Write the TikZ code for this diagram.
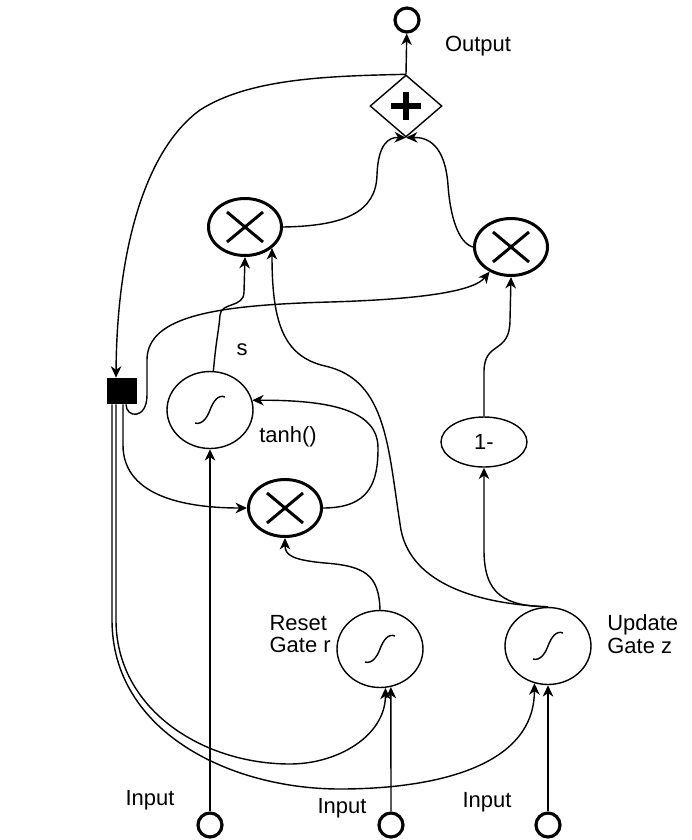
\documentclass[tikz,border=0pt]{standalone}
\usepackage{fontspec}
\setmainfont{Liberation Sans}
\usetikzlibrary{arrows.meta,positioning,shapes,calc}
\tikzset{
  >={Stealth[length=6.5pt,width=6pt,inset=2pt]},
  wire/.style={->,line width=0.8pt},
  port/.style={circle,draw,line width=1.8pt,minimum size=0.48cm,inner sep=0},
  mult/.style={ellipse,draw,line width=1.7pt,minimum width=1.46cm,minimum height=1.14cm,inner sep=0,
    path picture={\draw[line width=1.7pt,shift={(path picture bounding box.center)}] (-18,-15) -- (18,15) (-18,15) -- (18,-15);}},
  sigm/.style={ellipse,draw,line width=0.8pt,minimum width=1.72cm,minimum height=1.54cm,inner sep=0,
    path picture={\draw[line width=0.8pt,shift={(path picture bounding box.center)}] (15,-13) .. controls (8,-16) and (3,-8) .. (0,0) .. controls (-3,8) and (-8,15) .. (-15,13);}},
  sumbox/.style={diamond,draw,line width=0.8pt,minimum width=1.44cm,minimum height=1.24cm,aspect=1.16,inner sep=0,
    path picture={\draw[line width=3.4pt,shift={(path picture bounding box.center)}] (-15,0) -- (15,0) (0,-14) -- (0,14);}},
  lbl/.style={font=\fontsize{12.5}{13}\selectfont,align=left,inner sep=0}
}
\begin{document}
\begin{tikzpicture}[x=0.02cm,y=-0.02cm]
\useasboundingbox (0,0) rectangle (691,840);
\node[port] (out) at (407,20) {};
\node[sumbox] (add) at (406,106) {};
\node[mult] (multL) at (245,227) {};
\node[mult] (multR) at (511,247) {};
\node[mult] (multB) at (285,508) {};
\node[sigm] (tanhN) at (210,410) {};
\node[ellipse,draw,line width=0.8pt,minimum width=1.72cm,minimum height=1.0cm,inner sep=0,font=\fontsize{12.5}{13}\selectfont] (onem) at (484,442) {1-};
\node[sigm] (reset) at (380,649) {};
\node[sigm] (update) at (548,646) {};
\node[rectangle,fill=black,minimum width=0.6cm,minimum height=0.52cm,inner sep=0] (hold) at (122,391) {};
\node[port] (in1) at (210,825) {};
\node[port] (in2) at (391,825) {};
\node[port] (in3) at (548,825) {};
\node[lbl] (outlbl) at (478,46) {Output};
\node[lbl] (slbl) at (242,350) {s};
\node[lbl] (tanhlbl) at (288,437) {tanh()};
\node[lbl,anchor=east] (resetlbl) at (331,634) {Reset\\Gate r};
\node[lbl,anchor=west] (updatelbl) at (607,634) {Update\\Gate z};
\node[lbl] (in1lbl) at (150,800) {Input};
\node[lbl] (in2lbl) at (342,808) {Input};
\node[lbl] (in3lbl) at (487,802) {Input};
\draw[wire] (in1) -- (tanhN);
\draw[wire] (in2) -- (reset.-74);
\draw[wire] (in3) -- (update);
\draw[wire] ($(hold.south)+(-10,0)$) -- (112,620) to[out=-90,in=180] (340,789) to[out=0,in=-90] (update.-110);
\draw[wire] ($(hold.south)+(-6,0)$) -- (116,620) to[out=-90,in=180] (290,764) to[out=0,in=-90] (reset.-82);
\draw[wire] ($(hold.south)+(1,0)$) -- (123,445) to[out=-90,in=180] (multB.west);
\draw[wire] ($(hold.south)+(4,0)$) .. controls (126,418) and (147,420) .. (147,395) -- (147,360) .. controls (147,315) and (220,305) .. (330,302) .. controls (430,299) and (475,290) .. (multR.-131);
\draw[wire] (tanhN.85) .. controls (216,340) and (219,330) .. (220,315) .. controls (221,302) and (244,308) .. (244,292) -- (multL.south);
\draw[wire] (update.north) .. controls (480,604) and (412,585) .. (401,530) .. controls (388,450) and (388,380) .. (325,366) .. controls (282,356) and (272,320) .. (multL.-38);
\draw[wire] (update.north) .. controls (505,606) and (484,595) .. (484,550) -- (onem.south);
\draw[wire] (onem.north) -- (484,372) .. controls (484,340) and (510,355) .. (510,320) -- (multR.south);
\draw[wire] (multB.east) .. controls (370,508) and (378,482) .. (378,448) .. controls (378,410) and (330,400) .. (tanhN.13);
\draw[wire] (reset.north) .. controls (379,575) and (365,566) .. (325,563) .. controls (292,560) and (285,555) .. (multB.south);
\draw[wire] (multL.east) .. controls (345,226) and (376,212) .. (377,175) .. controls (378,145) and (388,137) .. (add.south);
\draw[wire] (multR.west) .. controls (458,243) and (450,215) .. (448,185) .. controls (445,145) and (428,137) .. (add.south);
\draw[wire] (add.north) -- (out);
\draw[wire] (add.north) .. controls (330,76) and (250,78) .. (200,110) .. controls (145,150) and (117,250) .. ($(hold.north)+(-6,0)$);
\end{tikzpicture}
\end{document}
